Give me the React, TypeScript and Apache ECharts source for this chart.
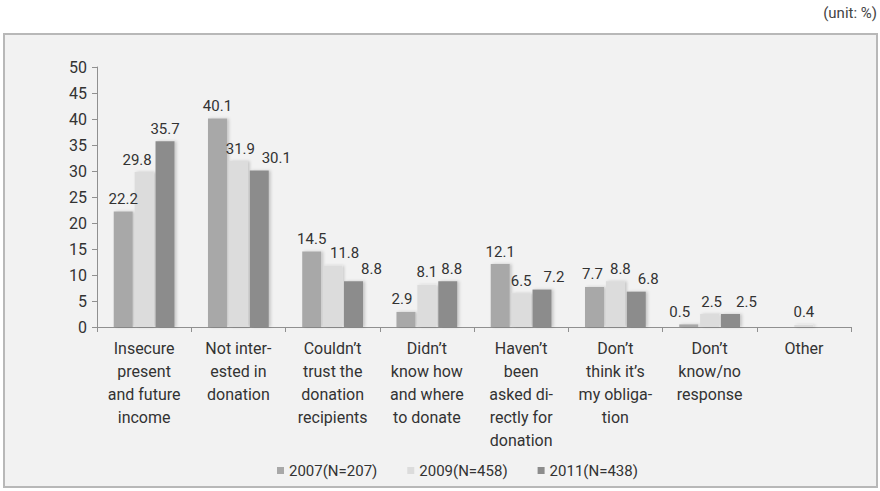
import React, { useEffect, useRef } from "react";
import * as echarts from "echarts";

const categories = [
  "Insecure\npresent\nand future\nincome",
  "Not inter-\nested in\ndonation",
  "Couldn’t\ntrust the\ndonation\nrecipients",
  "Didn’t\nknow how\nand where\nto donate",
  "Haven’t\nbeen\nasked di-\nrectly for\ndonation",
  "Don’t\nthink it’s\nmy obliga-\ntion",
  "Don’t\nknow/no\nresponse",
  "Other",
];
const seriesNames = ["2007(N=207)", "2009(N=458)", "2011(N=438)"];
const values2007 = [22.2, 40.1, 14.5, 2.9, 12.1, 7.7, 0.5, null];
const values2009 = [29.8, 31.9, 11.8, 8.1, 6.5, 8.8, 2.5, 0.4];
const values2011 = [35.7, 30.1, 8.8, 8.8, 7.2, 6.8, 2.5, null];
const colors = ["#a8a8a8", "#dcdcdc", "#8c8c8c"];
const yTicks = { min: 0, max: 50, interval: 5 };

// horizontal nudges of value labels, as placed in the original (series-category -> px)
const labelNudge: Record<string, number> = {
  "1-0": -7,
  "1-1": 2,
  "2-1": 17,
  "1-2": 12,
  "2-2": 18,
  "0-3": -4,
  "2-3": 4,
  "2-4": 12,
  "0-5": -2,
  "1-5": 5,
  "2-5": 12,
  "0-6": -9,
  "1-6": 2,
  "2-6": 16,
};

const FONT = "Roboto, 'DejaVu Sans', sans-serif";

export default function App() {
  const ref = useRef<HTMLDivElement>(null);
  useEffect(() => {
    if (!ref.current) return;
    const chart = echarts.init(ref.current, null, { renderer: "svg" });
    const allValues = [values2007, values2009, values2011];
    chart.setOption({
      animation: false,
      backgroundColor: "#ffffff",
      textStyle: { fontFamily: FONT },
      graphic: [
        {
          type: "rect",
          shape: { x: 4, y: 34, width: 873, height: 453 },
          style: { fill: "#f2f2f2", stroke: "#b8b8b8", lineWidth: 2 },
          z: -10,
        },
        {
          type: "text",
          right: 3,
          top: 5,
          style: { text: "(unit: %)", fill: "#444", fontSize: 15, fontFamily: FONT },
        },
      ],
      legend: {
        data: seriesNames,
        left: 272,
        top: 458,
        icon: "rect",
        itemWidth: 7,
        itemHeight: 7,
        itemGap: 30,
        textStyle: { fontSize: 15, color: "#333", fontFamily: FONT },
      },
      grid: { left: 97, right: 29, top: 67, bottom: 164, containLabel: false },
      xAxis: {
        type: "category",
        data: categories,
        axisLine: { lineStyle: { color: "#909090", width: 1 } },
        axisTick: { show: true, lineStyle: { color: "#909090" }, length: 5 },
        axisLabel: {
          interval: 0,
          fontSize: 16,
          lineHeight: 23,
          color: "#333",
          margin: 10,
          fontFamily: FONT,
        },
      },
      yAxis: {
        type: "value",
        min: yTicks.min,
        max: yTicks.max,
        interval: yTicks.interval,
        axisLine: { show: true, lineStyle: { color: "#909090" } },
        axisTick: { show: true, lineStyle: { color: "#909090" }, length: 5 },
        splitLine: { show: false },
        axisLabel: { fontSize: 16, color: "#333", margin: 10, fontFamily: FONT },
      },
      series: seriesNames.map((name, i) => ({
        name,
        type: "bar",
        data: allValues[i].map((v, j) => {
          const dx = labelNudge[`${i}-${j}`] || 0;
          return dx ? { value: v, label: { offset: [dx, 0] } } : v;
        }),
        barWidth: 19,
        barGap: "10%",
        itemStyle: {
          color: colors[i],
          shadowColor: "rgba(0,0,0,0.18)",
          shadowBlur: 3,
          shadowOffsetX: 2,
          shadowOffsetY: 0,
        },
        label: {
          show: true,
          position: "top",
          fontSize: 15,
          color: "#333",
          distance: 5,
          fontFamily: FONT,
        },
      })),
    });
    return () => chart.dispose();
  }, []);
  return (
    <div
      ref={ref}
      style={{ position: "fixed", left: 0, top: 0, width: 880, height: 491 }}
    />
  );
}
